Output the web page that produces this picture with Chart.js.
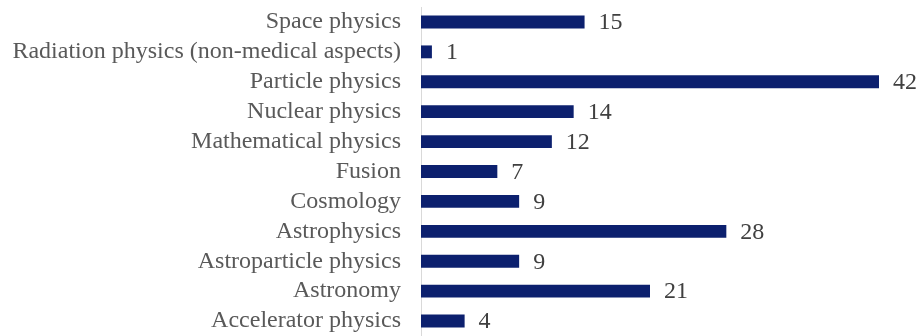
<!DOCTYPE html>
<html>
<head>
<meta charset="utf-8">
<script src="https://cdn.jsdelivr.net/npm/chart.js@4/dist/chart.umd.min.js"></script>
<style>
  html, body { margin: 0; padding: 0; background: #ffffff; }
  canvas { display: block; }
</style>
</head>
<body>
<canvas id="c" width="922" height="336"></canvas>
<script>
const categories = [
  'Space physics',
  'Radiation physics (non-medical aspects)',
  'Particle physics',
  'Nuclear physics',
  'Mathematical physics',
  'Fusion',
  'Cosmology',
  'Astrophysics',
  'Astroparticle physics',
  'Astronomy',
  'Accelerator physics'
];
const counts = [15, 1, 42, 14, 12, 7, 9, 28, 9, 21, 4];

const serif = '"Liberation Serif", "Times New Roman", serif';

// Writes each bar's value just past its end
const valueLabels = {
  id: 'valueLabels',
  afterDatasetsDraw(chart) {
    const ctx = chart.ctx;
    const meta = chart.getDatasetMeta(0);
    ctx.save();
    ctx.font = '24px ' + serif;
    ctx.fillStyle = '#404040';
    ctx.textAlign = 'left';
    ctx.textBaseline = 'middle';
    meta.data.forEach((bar, i) => {
      ctx.fillText(String(chart.data.datasets[0].data[i]), bar.x + 14, bar.y + 1);
    });
    ctx.restore();
  }
};

new Chart(document.getElementById('c'), {
  type: 'bar',
  data: {
    labels: categories,
    datasets: [{
      data: counts,
      backgroundColor: '#0c206e',
      borderWidth: 0,
      categoryPercentage: 1,
      barPercentage: 0.43
    }]
  },
  options: {
    indexAxis: 'y',
    responsive: false,
    animation: false,
    layout: { padding: { top: 7, right: 43, bottom: 0, left: 0 } },
    plugins: {
      legend: { display: false },
      tooltip: { enabled: false }
    },
    scales: {
      x: {
        display: false,
        min: 0,
        max: 42
      },
      y: {
        grid: { display: false },
        border: { display: true, color: '#d9d9d9', width: 1 },
        afterFit(scale) {
          scale.width = 421;
          scale.paddingTop = 0;
          scale.paddingBottom = 0;
        },
        ticks: {
          padding: 12,
          color: '#595959',
          autoSkip: false,
          font: { family: serif, size: 24 }
        }
      }
    }
  },
  plugins: [valueLabels]
});
</script>
</body>
</html>
